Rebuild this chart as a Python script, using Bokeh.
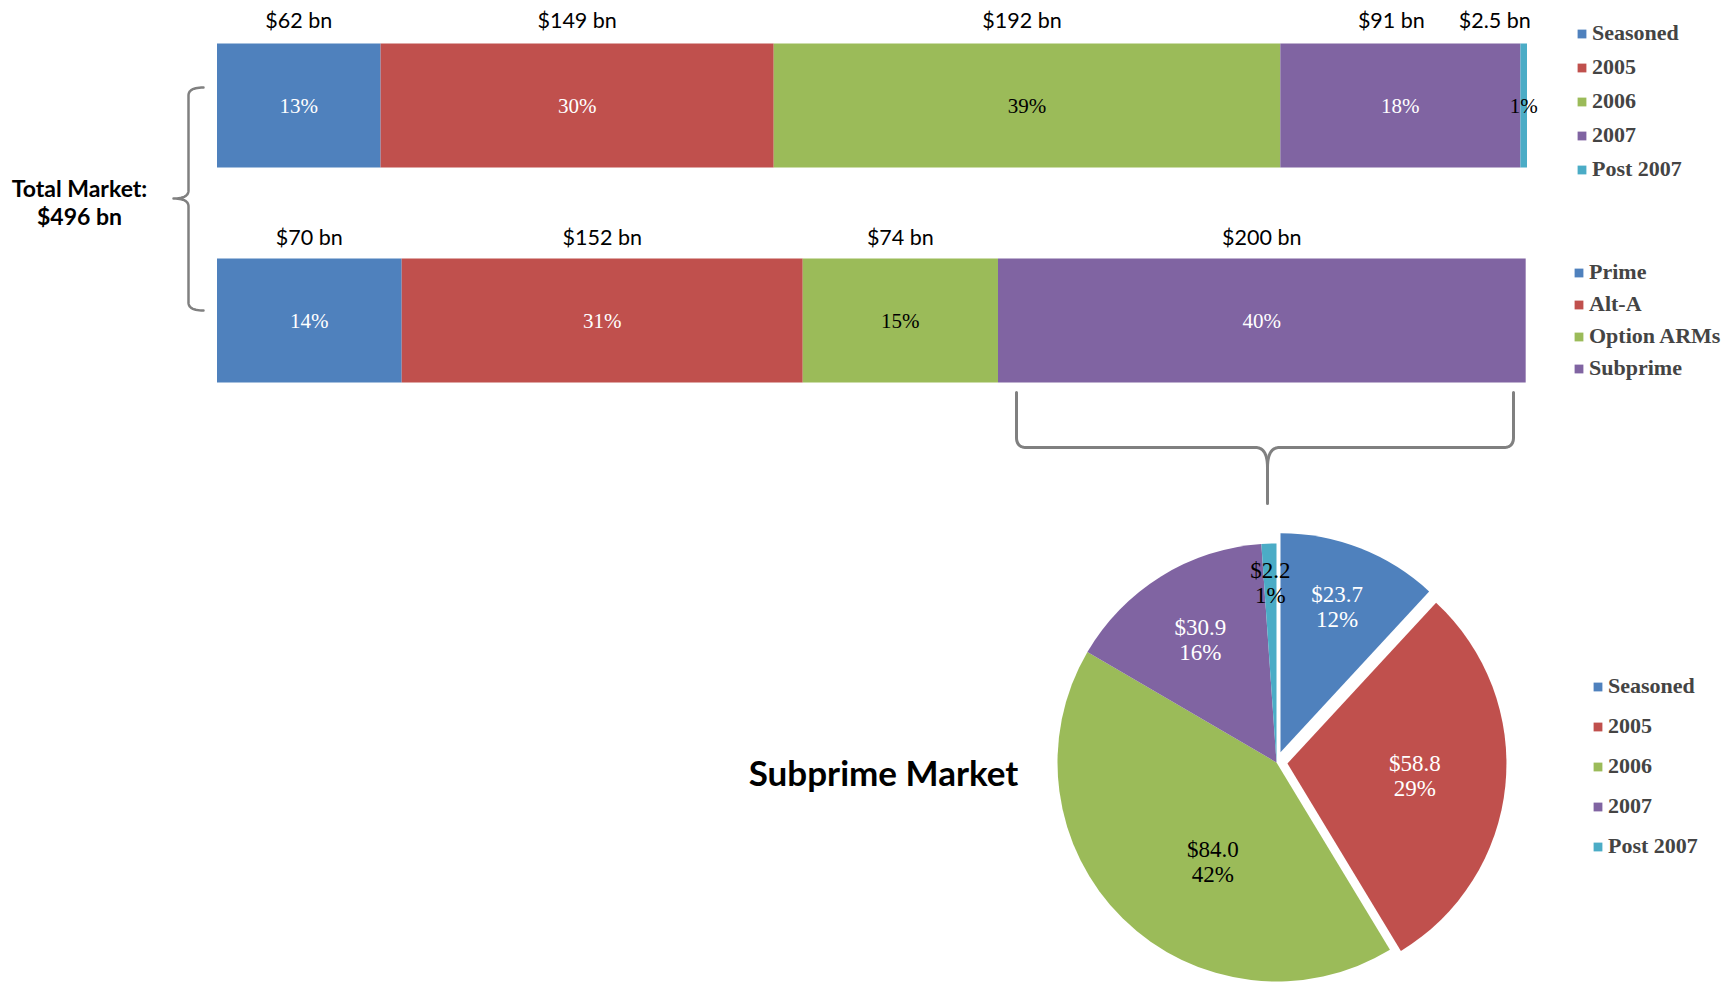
import numpy as np
from bokeh.plotting import figure
from bokeh.models import ColumnDataSource, Range1d, Legend, LegendItem
from bokeh.core.properties import value
from bokeh.embed import file_html
from bokeh.resources import INLINE

# ---------------- data ----------------
vintage_labels = ["Seasoned", "2005", "2006", "2007", "Post 2007"]
vintage_values = [62, 149, 192, 91, 2.5]
vintage_value_text = ["$62 bn", "$149 bn", "$192 bn", "$91 bn", "$2.5 bn"]
vintage_pct = ["13%", "30%", "39%", "18%", "1%"]

product_labels = ["Prime", "Alt-A", "Option ARMs", "Subprime"]
product_values = [70, 152, 74, 200]
product_value_text = ["$70 bn", "$152 bn", "$74 bn", "$200 bn"]
product_pct = ["14%", "31%", "15%", "40%"]

subprime_labels = ["Seasoned", "2005", "2006", "2007", "Post 2007"]
subprime_values = [23.7, 58.8, 84.0, 30.9, 2.2]
subprime_pct = ["12%", "29%", "42%", "16%", "1%"]

total_title = "Total Market:"
total_value = "$496 bn"
pie_title = "Subprime Market"

# ---------------- styles ----------------
COLORS = ["#4F81BD", "#C0504D", "#9BBB59", "#8064A2", "#4BACC6"]
LABEL_COLORS = ["white", "white", "black", "white", "black"]
GRAY = "#808080"
SERIF = "Liberation Serif"
SANS = "Lato"

W, H = 1732, 982


def px(X):
    return X


def py(Y):
    return H - Y


p = figure(width=W, height=H, x_range=Range1d(0, W), y_range=Range1d(0, H),
           x_axis_type=None, y_axis_type=None, toolbar_location=None,
           output_backend="svg", min_border=0)
p.outline_line_color = None
p.background_fill_color = "white"
p.border_fill_color = "white"

# ---- bar scale: billions -> frame ----
BAR_X0, BAR_X1 = px(216.5), px(1526.5)
k = (BAR_X1 - BAR_X0) / sum(vintage_values)
p.extra_x_ranges = {"bn": Range1d(-BAR_X0 / k, (W - BAR_X0) / k)}

BAR_H = 124


def stacked_bar(values, value_text, pct, yc, ytxt, colors, lcolors, voffsets):
    vals = np.array(values, dtype=float)
    right = np.cumsum(vals)
    left = right - vals
    mid = (left + right) / 2
    src = ColumnDataSource(dict(y=[yc] * len(vals), left=left, right=right,
                                color=colors[:len(vals)]))
    r = p.hbar(y="y", left="left", right="right", height=BAR_H, fill_color="color",
               line_color=None, source=src, x_range_name="bn")
    tsrc = ColumnDataSource(dict(x=mid, y=[yc] * len(vals), t=pct,
                                 c=lcolors[:len(vals)]))
    p.text(x="x", y="y", text="t", text_color="c", source=tsrc, x_range_name="bn",
           text_align="center", text_baseline="middle",
           text_font=value(SERIF), text_font_size="21px")
    vsrc = ColumnDataSource(dict(x=mid, y=[ytxt] * len(vals), t=value_text,
                                 xo=voffsets[:len(vals)]))
    p.text(x="x", y="y", text="t", x_offset="xo", source=vsrc, x_range_name="bn",
           text_align="center", text_baseline="middle", text_color="black",
           text_font=value(SANS), text_font_size="21.5px")
    return r


r_top = stacked_bar(vintage_values, vintage_value_text, vintage_pct, py(105), py(19),
                    COLORS, LABEL_COLORS, [0, 0, -5, -9, -29])
r_bot = stacked_bar(product_values, product_value_text, product_pct, py(320), py(236),
                    COLORS, LABEL_COLORS, [0, 0, 0, 0])

# ---- pie ----
CX, CY, R = px(1276), py(762), 219
EXPLODE = [11, 11, 0, 0, 0]
LBL_F = [0.71, 0.585, 0.54, 0.66, 0.82]
LBL_TWEAK = [0, 0, 12, 0, 0]
vals = np.array(subprime_values)
frac_after = np.cumsum(vals) / vals.sum()
frac_before = frac_after - vals / vals.sum()
start = np.pi / 2 - 2 * np.pi * frac_before
end = np.pi / 2 - 2 * np.pi * frac_after
midang = (start + end) / 2
ex = CX + np.array(EXPLODE) * np.cos(midang)
ey = CY + np.array(EXPLODE) * np.sin(midang)
psrc = ColumnDataSource(dict(x=ex, y=ey, start=start, end=end, color=COLORS))
r_pie = p.wedge(x="x", y="y", radius=R, start_angle="start", end_angle="end",
                direction="clock", fill_color="color", line_color=None, source=psrc)
la = midang + np.radians(LBL_TWEAK)
lx = ex + R * np.array(LBL_F) * np.cos(la)
ly = ey + R * np.array(LBL_F) * np.sin(la)
ptxt = [f"${v:.1f}\n{pc}" for v, pc in zip(subprime_values, subprime_pct)]
p.text(x=lx, y=ly, text=ptxt, text_color=LABEL_COLORS, text_align="center",
       text_baseline="middle", text_font=value(SERIF), text_font_size="23px",
       text_line_height=1.0)

# ---- braces ----


def quad(p0, c, p1, n=14):
    t = np.linspace(0, 1, n)[:, None]
    a, b, d = np.array(p0), np.array(c), np.array(p1)
    return list(((1 - t) ** 2) * a + 2 * (1 - t) * t * b + (t ** 2) * d)


def draw_path(pts, width):
    pts = np.array(pts, dtype=float)
    p.line(px(pts[:, 0]), py(pts[:, 1]), line_color=GRAY, line_width=width,
           line_join="round", line_cap="round")


left_brace = (quad((203, 87), (188, 87), (188, 95)) + [(188, 190)]
              + quad((188, 190), (188, 198), (173, 198))
              + quad((173, 198), (188, 198), (188, 206)) + [(188, 302)]
              + quad((188, 302), (188, 310), (203, 310)))
draw_path(left_brace, 2.5)

bl = ([(1016, 392), (1016, 437)] + quad((1016, 437), (1016, 447), (1026, 447))
      + [(1255, 447)] + quad((1255, 447), (1267, 447), (1267, 467)) + [(1267, 503)])
br = ([(1513, 392), (1513, 437)] + quad((1513, 437), (1513, 447), (1503, 447))
      + [(1279, 447)] + quad((1279, 447), (1267, 447), (1267, 467)))
draw_path(bl, 3)
draw_path(br, 3)

# ---- titles ----
p.text(x=[px(79)], y=[py(187)], text=[total_title], text_align="center",
       text_baseline="middle", text_font=value(SANS), text_font_style="bold",
       text_font_size="23px", text_color="black")
p.text(x=[px(79)], y=[py(215)], text=[total_value], text_align="center",
       text_baseline="middle", text_font=value(SANS), text_font_style="bold",
       text_font_size="23px", text_color="black")
p.text(x=[px(883)], y=[py(771)], text=[pie_title], text_align="center",
       text_baseline="middle", text_font=value(SANS), text_font_style="bold",
       text_font_size="35px", text_color="black")

# ---- legends ----


def add_legend(labels, renderer, loc, spacing):
    items = [LegendItem(label=lab, renderers=[renderer], index=i)
             for i, lab in enumerate(labels)]
    lg = Legend(items=items, location=loc, orientation="vertical", spacing=spacing,
                padding=0, margin=0, border_line_color=None,
                background_fill_alpha=0, glyph_width=11, glyph_height=11,
                label_standoff=5, label_text_font=SERIF,
                label_text_font_style="bold", label_text_font_size="22px",
                label_height=22, label_text_baseline="middle")
    p.add_layout(lg)


add_legend(vintage_labels, r_top, (px(1576), py(182)), 8)
add_legend(product_labels, r_bot, (px(1573), py(381)), 6)
add_legend(subprime_labels, r_pie, (px(1592), py(859)), 14)

open("out.html", "w").write(file_html(p, INLINE))
